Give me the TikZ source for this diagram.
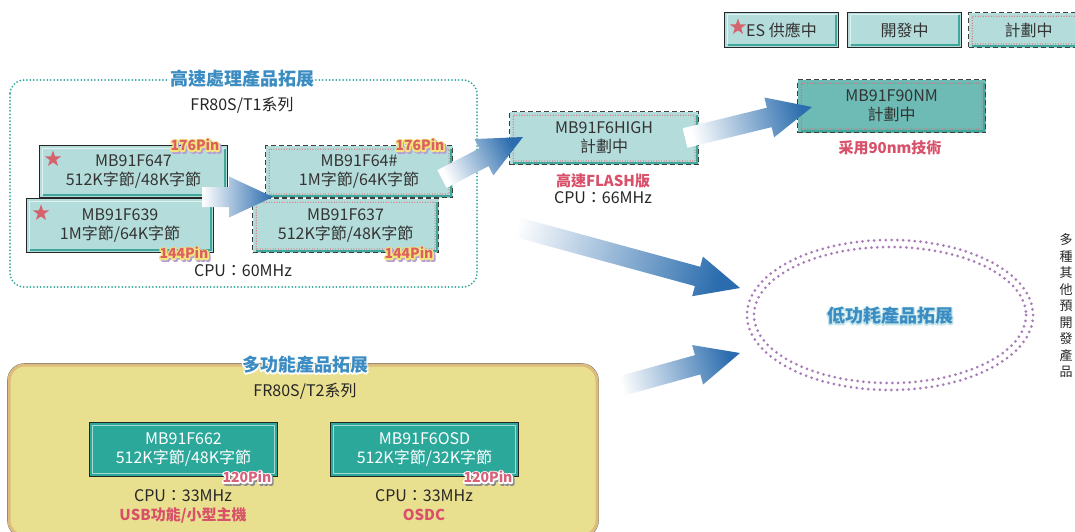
\documentclass[tikz,border=0pt]{standalone}
\usepackage{fontspec}
\setmainfont{Noto Sans CJK TC}
\usetikzlibrary{shapes.geometric,calc}

\definecolor{boxfill}{HTML}{B4DCDA}
\definecolor{bevel}{HTML}{3FA89B}
\definecolor{deepteal}{HTML}{2BA89A}
\definecolor{lightband}{HTML}{A6D9D2}
\definecolor{midteal}{HTML}{6DBBB4}
\definecolor{plandot}{HTML}{E0606E}
\definecolor{arrowblue}{HTML}{2A6CAD}
\definecolor{titleblue}{HTML}{3A8CC2}
\definecolor{notered}{HTML}{D9506A}
\definecolor{sandfill}{HTML}{E9E08F}
\definecolor{sandline}{HTML}{DDBB7C}
\definecolor{ringpurple}{HTML}{A87CB8}
\definecolor{frameteal}{HTML}{33A99B}
\definecolor{starred}{HTML}{D5626C}
\definecolor{pinyellow}{HTML}{F2E57E}
\definecolor{pinshadow}{HTML}{B59ED6}
\definecolor{pinred}{HTML}{DD5F62}
\definecolor{pinpink}{HTML}{D8607A}
\definecolor{glowcyan}{HTML}{C5E6EA}

\tikzset{
  chip/.style={rectangle, inner sep=0pt, align=center, anchor=north west,
    font=\fontsize{16}{19}\selectfont, text=black!80},
  devbox/.style={chip, fill=boxfill, draw=black!85, line width=1pt,
    path picture={
      \draw[solid, white!60!boxfill, line width=1pt]
        ([xshift=2.5pt,yshift=3pt]path picture bounding box.south west) |-
        ([xshift=-3pt,yshift=-2.5pt]path picture bounding box.north east);
      \draw[solid, bevel, line width=2.2pt]
        ([xshift=3pt,yshift=2.6pt]path picture bounding box.south west) -|
        ([xshift=-2.6pt,yshift=-3pt]path picture bounding box.north east);
    }},
  planbox/.style={chip, fill=boxfill, draw=black!75, line width=1.2pt,
    dash pattern=on 5pt off 3pt,
    path picture={
      \draw[solid, bevel, line width=2pt]
        ([xshift=3pt,yshift=2pt]path picture bounding box.south west) -|
        ([xshift=-2pt,yshift=-3pt]path picture bounding box.north east);
      \draw[plandot, line width=1.2pt, dash pattern=on 0pt off 2.6pt, line cap=round]
        ([xshift=3.6pt,yshift=3.6pt]path picture bounding box.south west) rectangle
        ([xshift=-3.6pt,yshift=-3.6pt]path picture bounding box.north east);
    }},
  deepbox/.style={chip, fill=deepteal, draw=black!85, line width=1pt, text=white,
    path picture={
      \draw[solid, lightband, line width=1.8pt]
        ([xshift=3pt,yshift=3pt]path picture bounding box.south west) rectangle
        ([xshift=-3pt,yshift=-3pt]path picture bounding box.north east);
    }},
  redstar/.style={star, star points=5, star point ratio=2.5, fill=starred,
    minimum size=17pt, inner sep=0pt},
  pinfont/.style={font=\fontsize{14}{14}\selectfont\bfseries, inner sep=0pt},
  titlefont/.style={font=\fontsize{18}{18}\selectfont\bfseries, text=titleblue, inner sep=1pt},
  plain/.style={font=\fontsize{16}{18}\selectfont, text=black!85, inner sep=0pt},
  note/.style={font=\fontsize{15}{18}\selectfont\bfseries, text=notered, inner sep=0pt},
  ring/.style={ringpurple, line width=3pt, dash pattern=on 0pt off 5.8pt, line cap=round},
}

% stroked (fattened) text, used for outlines and shadows
\newcommand\fattext[2]{\special{pdf:literal direct 2 Tr #1 w 1 j}#2\special{pdf:literal direct 0 Tr}}

% text with a soft outline
\newcommand\glowtext[5]{%
  \node[#4, text=#5] at (#2) {\fattext{2.4}{#3}};
  \node[#4] (#1) at (#2) {#3};
}

% pin count tag: outline plus drop shadow
\newcommand\pinlabel[6]{%
  \node[pinfont, text=#6, xshift=1.6pt, yshift=-1.6pt] at (#2) {\fattext{3}{#3}};
  \node[pinfont, text=#5] at (#2) {\fattext{3}{#3}};
  \node[pinfont, text=#4] (#1) at (#2) {#3};
}

% shaded block arrow from tail to tip
\newcommand\blockarrow[3]{%
  \coordinate (#1#2) at ($(#2)!44pt!(#1)$);
  \path[left color=white, right color=arrowblue, shading angle=#3]
    ($(#1)!10pt!90:(#2)$) -- ($(#1#2)!10pt!-90:(#1)$) -- ($(#1#2)!20.5pt!-90:(#1)$)
    -- (#2) -- ($(#1#2)!20.5pt!90:(#1)$) -- ($(#1#2)!10pt!90:(#1)$)
    -- ($(#1)!10pt!-90:(#2)$) -- cycle;
}

\begin{document}
\begin{tikzpicture}[x=1pt, y=-1pt]
    \fill[white] (0,0) rectangle (1075,532);
    \useasboundingbox (0,0) rectangle (1075,532);

    % legend
    \node[devbox, minimum width=114pt, minimum height=35pt] (lges) at (724,12) {ES 供應中};
    \node[redstar] (lgstar) at (738,27) {};
    \node[devbox, minimum width=114pt, minimum height=35pt] (lgdev) at (847,12) {開發中};
    \node[planbox, minimum width=120pt, minimum height=35pt] (lgplan) at (968,12) {計劃中};

    % high speed group
    \draw[frameteal, line width=2pt, dash pattern=on 0pt off 3.4pt, line cap=round,
      rounded corners=14pt] (10,80) rectangle (477,287);
    \node[titlefont, fill=white] (hstitle) at (242,79) {高速處理產品拓展};
    \node[plain] (hsseries) at (242,105) {FR80S/T1系列};

    \node[devbox, minimum width=188pt, minimum height=52pt] (f647) at (39,145) {MB91F647\\512K字節/48K字節};
    \node[devbox, minimum width=187pt, minimum height=54pt] (f639) at (26,198) {MB91F639\\1M字節/64K字節};
    \node[redstar] (star647) at (53,159) {};
    \node[redstar] (star639) at (41,213) {};
    \node[planbox, minimum width=187pt, minimum height=52pt] (f64x) at (265,145) {MB91F64\#\\1M字節/64K字節};
    \node[planbox, minimum width=186pt, minimum height=54pt] (f637) at (252,198) {MB91F637\\512K字節/48K字節};

    \pinlabel{pin647}{195,145}{176Pin}{pinred}{pinyellow}{pinshadow}
    \pinlabel{pin639}{184,253}{144Pin}{pinred}{pinyellow}{pinshadow}
    \pinlabel{pin64x}{420,145}{176Pin}{pinred}{pinyellow}{pinshadow}
    \pinlabel{pin637}{409,253}{144Pin}{pinred}{pinyellow}{pinshadow}
    \node[plain] (cpu60) at (243,271) {CPU：60MHz};

    % roadmap boxes
    \node[planbox, minimum width=189pt, minimum height=53pt] (f6high) at (509,111) {MB91F6HIGH\\計劃中};
    \node[note] (flashnote) at (603,181) {高速FLASH版};
    \node[plain] (cpu66) at (603,198) {CPU：66MHz};
    \node[planbox, fill=midteal, minimum width=188pt, minimum height=53pt] (f90nm) at (797,79) {MB91F90NM\\計劃中};
    \node[note] (nmnote) at (890,148) {采用90nm技術};

    % low power target
    \draw[ring] (890,315) ellipse [x radius=143, y radius=75];
    \draw[ring] (890,315) ellipse [x radius=136, y radius=68];
    \glowtext{lowpower}{890,316}{低功耗產品拓展}{titlefont}{glowcyan}

    % multi function group
    \draw[black!55, line width=0.6pt, rounded corners=17pt] (7.5,363.5) rectangle (598.5,537.5);
    \draw[sandline, fill=sandfill, line width=3pt, rounded corners=16pt] (9,365) rectangle (597,536);
    \glowtext{mftitle}{305,365}{多功能產品拓展}{titlefont}{white}
    \node[plain] (mfseries) at (305,391) {FR80S/T2系列};

    \node[deepbox, minimum width=188pt, minimum height=54pt] (f662) at (89,422) {MB91F662\\512K字節/48K字節};
    \node[deepbox, minimum width=188pt, minimum height=54pt] (f6osd) at (330,422) {MB91F6OSD\\512K字節/32K字節};
    \pinlabel{pin662}{247,477}{120Pin}{pinpink}{white}{black!45}
    \pinlabel{pinosd}{488,477}{120Pin}{pinpink}{white}{black!45}
    \node[plain] (cpu33a) at (183,496) {CPU：33MHz};
    \node[note] (usbnote) at (183,515) {USB功能/小型主機};
    \node[plain] (cpu33b) at (424,496) {CPU：33MHz};
    \node[note] (osdcnote) at (424,515) {OSDC};

    % side note at the page edge
    \node[font=\fontsize{13}{16.5}\selectfont, align=center, inner sep=0pt, text=black!85]
      (sidenote) at (1066,306) {多\\種\\其\\他\\預\\開\\發\\產\\品};

    % arrows
    \coordinate (a1s) at (202,197);  \coordinate (a1t) at (273,197);
    \coordinate (a2s) at (442,179);  \coordinate (a2t) at (523,137);
    \coordinate (a3s) at (685,138);  \coordinate (a3t) at (812,107);
    \coordinate (a4s) at (498,222);  \coordinate (a4t) at (740,288);
    \coordinate (a5s) at (614,388);  \coordinate (a5t) at (740,353);
    \blockarrow{a1s}{a1t}{90}
    \blockarrow{a2s}{a2t}{117}
    \blockarrow{a3s}{a3t}{104}
    \blockarrow{a4s}{a4t}{75}
    \blockarrow{a5s}{a5t}{105}
\end{tikzpicture}
\end{document}
